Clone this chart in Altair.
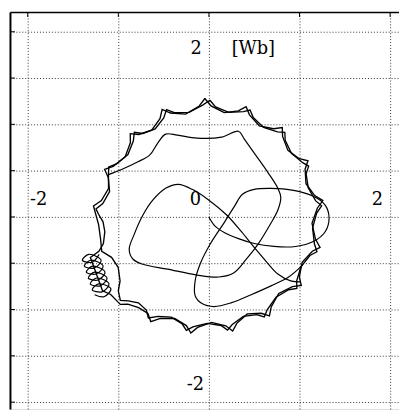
import math
import altair as alt
import pandas as pd

# ---- outer scalloped flux ring, two passes (polar: angle in degrees, radius in Wb) ----
ring1_angle = [
    92, 88.9, 81.5, 74.2,
    71, 67.9, 60.5, 53.2,
    50, 46.9, 39.5, 32.2,
    29, 25.9, 18.5, 11.2,
    8, 4.5, -3.5, -11.5,
    -15, -18, -25.5, -33,
    -36, -39.3, -47, -54.7,
    -58, -61, -68, -75,
    -78, -81, -88.5, -96,
    -99, -102, -109, -116,
    -119.6, -122.9, -128.4, -133.5,
    -136, -142.3, -145.8, -161.5, -163, -166.1, -172.1, -177.4, -181.5,
    -184, -187, -194, -201,
    -204, -207.3, -215, -222.7,
    -226, -229, -236, -243,
    -246, -249.3, -257, -264.7,
    -268]
ring1_radius = [
    1.28, 1.20, 1.14, 1.19,
    1.26, 1.19, 1.13, 1.19,
    1.26, 1.19, 1.13, 1.18,
    1.25, 1.18, 1.13, 1.19,
    1.27, 1.20, 1.14, 1.20,
    1.27, 1.20, 1.14, 1.19,
    1.26, 1.19, 1.13, 1.19,
    1.26, 1.19, 1.13, 1.19,
    1.26, 1.19, 1.14, 1.20,
    1.27, 1.20, 1.16, 1.22,
    1.30, 1.24, 1.25, 1.30,
    1.36, 1.37, 1.42, 1.38, 1.27, 1.20, 1.16, 1.17, 1.22,
    1.25, 1.18, 1.13, 1.19,
    1.26, 1.19, 1.13, 1.18,
    1.25, 1.18, 1.13, 1.19,
    1.27, 1.20, 1.14, 1.20,
    1.28]
ring2_angle = [
    89.5, 86.5, 79, 71.5,
    68.5, 65.5, 58, 50.5,
    47.5, 44.5, 37, 29.5,
    26.5, 23.5, 16, 8.5,
    5.5, 2, -6, -14,
    -17.5, -20.5, -28, -35.5,
    -38.5, -41.8, -49.5, -57.2,
    -60.5, -63.5, -70.5, -77.5,
    -80.5, -83.5, -91, -98.5,
    -101.5, -104.5, -111, -117.5,
    -121.5, -124.5, -130, -134.5,
    -137.3, -141.4, -144.8, -151.5, -157.9, -162.6, -168.4, -176,
    -185.3, -188.5, -195.5, -202.5,
    -206, -209.3, -217, -224.5,
    -228, -231, -238, -245,
    -248, -251.3, -259, -266.7,
    -270.5]
ring2_radius = [
    1.26, 1.19, 1.15, 1.20,
    1.24, 1.18, 1.14, 1.19,
    1.24, 1.18, 1.14, 1.19,
    1.23, 1.17, 1.14, 1.19,
    1.25, 1.19, 1.15, 1.20,
    1.25, 1.19, 1.15, 1.19,
    1.24, 1.18, 1.14, 1.19,
    1.24, 1.18, 1.14, 1.19,
    1.24, 1.18, 1.15, 1.20,
    1.25, 1.19, 1.16, 1.21,
    1.28, 1.22, 1.21, 1.27,
    1.33, 1.28, 1.20, 1.14, 1.16, 1.24, 1.22, 1.22,
    1.28, 1.20, 1.15, 1.20,
    1.23, 1.17, 1.12, 1.17,
    1.23, 1.16, 1.12, 1.18,
    1.25, 1.19, 1.15, 1.21,
    1.26]

# ---- small coil at the lower left (Wb) ----
coil_x = [-1.212, -1.288, -1.397, -1.326,
          -1.190, -1.266, -1.375, -1.304,
          -1.168, -1.245, -1.353, -1.283,
          -1.147, -1.223, -1.332, -1.261,
          -1.125, -1.201, -1.310, -1.239,
          -1.103, -1.179, -1.288, -1.217,
          -1.082, -1.158, -1.261]
coil_y = [-0.404, -0.489, -0.468, -0.404,
          -0.468, -0.553, -0.532, -0.468,
          -0.532, -0.617, -0.596, -0.532,
          -0.596, -0.681, -0.660, -0.596,
          -0.660, -0.745, -0.723, -0.660,
          -0.723, -0.809, -0.787, -0.723,
          -0.777, -0.862, -0.840]

# ---- inner transient trajectory (Wb) ----
path1_x = [0, 0.065, 0.174, 0.326, 0.5, 0.717, 0.957, 1.152, 1.283, 1.326,
           1.283, 1.152, 0.935, 0.685, 0.5, 0.370, 0.283, 0.174, 0.011, -0.098,
           -0.152, -0.152, -0.076, 0.054, 0.25, 0.467, 0.685, 0.880, 1.033]
path1_y = [0, -0.096, -0.170, -0.234, -0.287, -0.319, -0.319, -0.266, -0.160, -0.011,
           0.128, 0.223, 0.287, 0.309, 0.298, 0.245, 0.117, -0.053, -0.298, -0.511,
           -0.691, -0.851, -0.936, -0.968, -0.926, -0.840, -0.745, -0.649, -0.521]
path2_x = [1.011, 0.902, 0.761, 0.630, 0.5, 0.359, 0.196, 0, -0.185, -0.337,
           -0.478, -0.620, -0.728, -0.826, -0.880, -0.837, -0.728, -0.457, -0.130, 0.109,
           0.272, 0.413, 0.554, 0.674, 0.761, 0.793, 0.761, 0.652, 0.522, 0.391,
           0.326, 0.141, -0.130, -0.348, -0.478, -0.565, -0.652, -0.783, -0.946, -1.109]
path2_y = [-0.702, -0.691, -0.617, -0.479, -0.330, -0.160, 0.021, 0.181, 0.298, 0.351,
           0.309, 0.181, 0.021, -0.191, -0.351, -0.457, -0.511, -0.564, -0.628, -0.649,
           -0.606, -0.457, -0.277, -0.085, 0.074, 0.213, 0.309, 0.479, 0.660, 0.840,
           0.926, 0.862, 0.851, 0.883, 0.894, 0.798, 0.670, 0.596, 0.521, 0.457]

# ---- grid and labels ----
x_grid = [-2, -1, 0, 1, 2]
y_grid = [-2, -1.5, -1, -0.5, 0, 0.5, 1, 1.5, 2]
label_text = ["2", "[Wb]", "-2", "0", "2", "-2"]
label_x = [-0.14, 0.49, -1.88, -0.15, 1.86, -0.15]
label_y = [1.755, 1.755, 0.128, 0.128, 0.128, -1.872]

# ---- tables ----
ring_rows = []
for name, ang, rad in [("ring1", ring1_angle, ring1_radius), ("ring2", ring2_angle, ring2_radius)]:
    for i, (a, r) in enumerate(zip(ang, rad)):
        t = math.radians(a)
        ring_rows.append({"seg": name, "i": i, "x": r * math.cos(t), "y": r * math.sin(t)})
ring_df = pd.DataFrame(ring_rows)

curve_rows = []
for name, xs_, ys_ in [("coil", coil_x, coil_y), ("p1", path1_x, path1_y), ("p2", path2_x, path2_y)]:
    for i, (a, b) in enumerate(zip(xs_, ys_)):
        curve_rows.append({"seg": name, "i": i, "x": a, "y": b})
curve_df = pd.DataFrame(curve_rows)

xg_df = pd.DataFrame({"x": x_grid})
yg_df = pd.DataFrame({"y": y_grid})
lab_df = pd.DataFrame({"t": label_text, "x": label_x, "y": label_y})

xscale = alt.Scale(domain=[-2.196, 2.098], nice=False, zero=False)
yscale = alt.Scale(domain=[-2.074, 2.213], nice=False, zero=False)
xaxis = alt.Axis(orient="top", values=x_grid, grid=True, gridDash=[1, 2], gridColor="#333",
                 gridWidth=1, gridOpacity=1, labels=False, ticks=False, domain=True,
                 domainColor="black", domainWidth=1.5, title=None)
yaxis = alt.Axis(orient="left", values=y_grid, grid=True, gridDash=[1, 2], gridColor="#333",
                 gridWidth=1, gridOpacity=1, labels=False, ticks=False, domain=True,
                 domainColor="black", domainWidth=2, title=None)

X = alt.X("x:Q", scale=xscale, axis=xaxis)
Y = alt.Y("y:Q", scale=yscale, axis=yaxis)

ring = alt.Chart(ring_df).mark_line(color="black", strokeWidth=1.35).encode(
    x=X, y=Y, detail="seg:N", order="i:Q")
curves = alt.Chart(curve_df).mark_line(color="black", strokeWidth=1.2,
                                       interpolate="catmull-rom").encode(
    x=X, y=Y, detail="seg:N", order="i:Q")
yticks = alt.Chart(yg_df).mark_rule(color="black", strokeWidth=1).encode(
    y=Y, x=alt.value(0), x2=alt.value(5))
xticks = alt.Chart(xg_df).mark_rule(color="black", strokeWidth=1).encode(
    x=X, y=alt.value(0), y2=alt.value(5))
labels = alt.Chart(lab_df).mark_text(font="DejaVu Serif", fontSize=18, color="black",
                                     align="center", baseline="alphabetic").encode(
    x=X, y=Y, text="t:N")

chart = alt.layer(ring, curves, yticks, xticks, labels).properties(
    width=395, height=403,
    padding={"left": 2, "top": 1, "right": 0, "bottom": 0},
    autosize=alt.AutoSizeParams(type="none"),
).configure_view(strokeWidth=0).configure(background="white")

chart.save("out.html", embed_options={"renderer": "svg", "actions": False})
